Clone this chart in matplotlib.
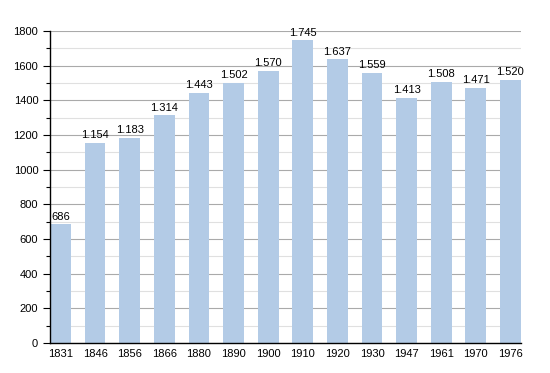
import matplotlib.pyplot as plt
from matplotlib.ticker import MultipleLocator

years = ["1831", "1846", "1856", "1866", "1880", "1890", "1900",
         "1910", "1920", "1930", "1947", "1961", "1970", "1976"]
population = [686, 1154, 1183, 1314, 1443, 1502, 1570,
              1745, 1637, 1559, 1413, 1508, 1471, 1520]
value_labels = ["686", "1.154", "1.183", "1.314", "1.443", "1.502", "1.570",
                "1.745", "1.637", "1.559", "1.413", "1.508", "1.471", "1.520"]

plt.rcParams["font.family"] = ["Liberation Sans", "DejaVu Sans"]
plt.rcParams["font.size"] = 8

fig = plt.figure(figsize=(5.5, 3.73), dpi=100)
ax = fig.add_axes([0.091, 0.080, 0.856, 0.837])

x = list(range(len(years)))
ax.bar(x, population, width=0.6, color="#b3cbe6", zorder=2)
for xi, v, lab in zip(x, population, value_labels):
    ax.text(xi, v + 15, lab, ha="center", va="bottom", fontsize=8, zorder=3)

ax.set_xlim(-0.3, 13.3)
ax.set_ylim(0, 1800)
ax.set_xticks(x)
ax.set_xticklabels(years)
ax.yaxis.set_major_locator(MultipleLocator(200))
ax.yaxis.set_minor_locator(MultipleLocator(100))
ax.grid(axis="y", which="major", color="#aaaaaa", linewidth=0.8, zorder=0)
ax.grid(axis="y", which="minor", color="#e0e0e0", linewidth=0.8, zorder=0)
ax.tick_params(axis="x", length=0, pad=4)
ax.tick_params(axis="y", which="major", length=5, width=0.8)
ax.tick_params(axis="y", which="minor", length=3, width=0.8)

for s in ["top", "right"]:
    ax.spines[s].set_visible(False)
for s in ["left", "bottom"]:
    ax.spines[s].set_linewidth(1.0)
    ax.spines[s].set_color("black")

fig.savefig("out.png", dpi=100)
plt.close("all")
